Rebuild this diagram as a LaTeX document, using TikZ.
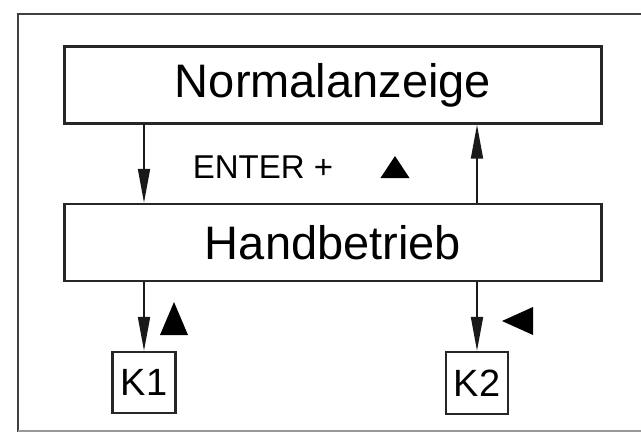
\documentclass[tikz,border=0pt]{standalone}
\usepackage{fontspec}
\setmainfont{Liberation Sans}
\usetikzlibrary{arrows.meta}
\begin{document}
\begin{tikzpicture}[x=1pt,y=-1pt,
  box/.style={draw=black!85,line width=2.4pt,inner sep=0pt},
  keybox/.style={draw=black!85,line width=2.2pt,inner sep=0pt},
  arr/.style={draw=black!90,line width=1.8pt,-{Triangle[length=34pt,width=12pt]}},
  big/.style={font=\fontsize{47}{56}\selectfont},
  mid/.style={font=\fontsize{33}{40}\selectfont},
  key/.style={font=\fontsize{38}{46}\selectfont},
  tri/.style={fill=black}]
\useasboundingbox (0,0) rectangle (641,432);
% frame
\draw[line width=2.2pt,black!75] (641,14) -- (18,14) -- (18,432);
\draw[line width=1.5pt,black!40] (18,430.8) -- (641,430.8);
% boxes
\node[box,minimum width=537pt,minimum height=77pt,big] (normal) at (333,85) {Normalanzeige};
\node[box,minimum width=537pt,minimum height=77pt,big] (hand) at (333,242.5) {Handbetrieb};
\node[keybox,minimum width=63pt,minimum height=61pt,key] (k1) at (144,382.5) {K1};
\node[keybox,minimum width=62pt,minimum height=62pt,key] (k2) at (477,383) {K2};
% label
\node[mid] (enter) at (263,167) {ENTER +};
% arrows
\draw[arr] (normal.south -| k1.north) -- (hand.north -| k1.north);
\draw[arr] (hand.north -| k2.north) -- (normal.south -| k2.north);
\draw[arr] (hand.south -| k1.north) -- (k1.north);
\draw[arr] (hand.south -| k2.north) -- (k2.north);
% key symbols
\fill[tri] (395,156) -- (409.5,178) -- (380.5,178) -- cycle;
\fill[tri] (174,302) -- (188,335) -- (160,335) -- cycle;
\fill[tri] (502,321) -- (533,307) -- (533,335) -- cycle;
\end{tikzpicture}
\end{document}
